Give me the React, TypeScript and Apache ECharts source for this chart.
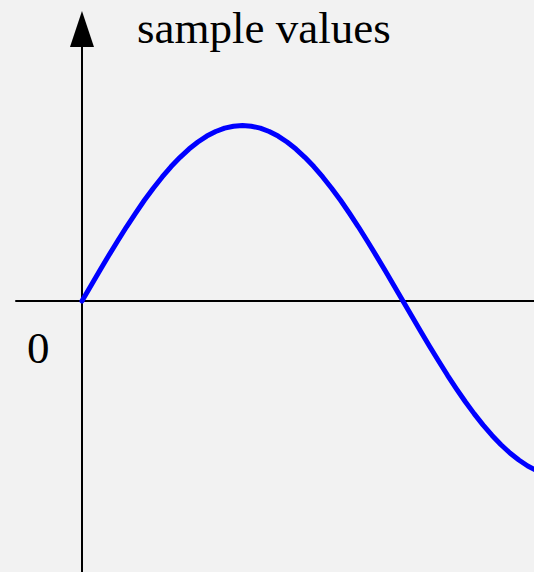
import React, { useEffect, useRef } from "react";
import * as echarts from "echarts";

const xValues = [
  0, 5, 10, 15, 20, 25, 30, 35, 40, 45, 50, 55, 60, 65, 70, 75, 80, 85, 90,
  95, 100, 105, 110, 115, 120, 125, 130, 135, 140, 145, 150, 155, 160, 165, 170, 175, 180,
  185, 190, 195, 200, 205, 210, 215, 220, 225, 230, 235, 240, 245, 250, 255,
];
const yValues = [
  0, 0.087, 0.174, 0.259, 0.342, 0.423, 0.5, 0.574, 0.643, 0.707, 0.766, 0.819, 0.866, 0.906, 0.94, 0.966, 0.985, 0.996, 1.0,
  0.996, 0.985, 0.966, 0.94, 0.906, 0.866, 0.819, 0.766, 0.707, 0.643, 0.574, 0.5, 0.423, 0.342, 0.259, 0.174, 0.087, 0,
  -0.087, -0.174, -0.259, -0.342, -0.423, -0.5, -0.574, -0.643, -0.707, -0.766, -0.819, -0.866, -0.906, -0.94, -0.966,
];
const titleText = "sample values";
const originLabel = "0";

export default function App() {
  const ref = useRef<HTMLDivElement>(null);
  useEffect(() => {
    if (!ref.current) return;
    const chart = echarts.init(ref.current, null, { renderer: "svg" });
    const font = "'Liberation Serif', 'Times New Roman', serif";
    chart.setOption({
      animation: false,
      backgroundColor: "#f2f2f2",
      title: {
        text: titleText,
        left: 132,
        top: 0,
        textStyle: { fontFamily: font, fontSize: 45, fontWeight: "normal", color: "#000" },
      },
      graphic: [
        {
          type: "text",
          left: 27,
          top: 325,
          style: { text: originLabel, fontFamily: font, fontSize: 45, fill: "#000" },
        },
      ],
      grid: { left: 16, right: 0, top: 29, bottom: 0, containLabel: false },
      xAxis: {
        type: "value",
        min: -37,
        max: 253.5,
        axisLine: { show: true, onZero: true, lineStyle: { color: "#000", width: 2 } },
        axisTick: { show: false },
        axisLabel: { show: false },
        splitLine: { show: false },
      },
      yAxis: {
        type: "value",
        min: -1.544,
        max: 1.55,
        axisLine: {
          show: true,
          onZero: true,
          symbol: ["none", "triangle"],
          symbolSize: [24, 36],
          lineStyle: { color: "#000", width: 2 },
        },
        axisTick: { show: false },
        axisLabel: { show: false },
        splitLine: { show: false },
      },
      series: [
        {
          type: "line",
          data: xValues.map((x, i) => [x, yValues[i]]),
          smooth: false,
          showSymbol: false,
          lineStyle: { color: "#0000ff", width: 5, join: "round", cap: "round" },
          clip: true,
        },
      ],
    });
    return () => chart.dispose();
  }, []);
  return <div ref={ref} style={{ position: "absolute", left: 0, top: 0, width: 534, height: 572 }} />;
}
